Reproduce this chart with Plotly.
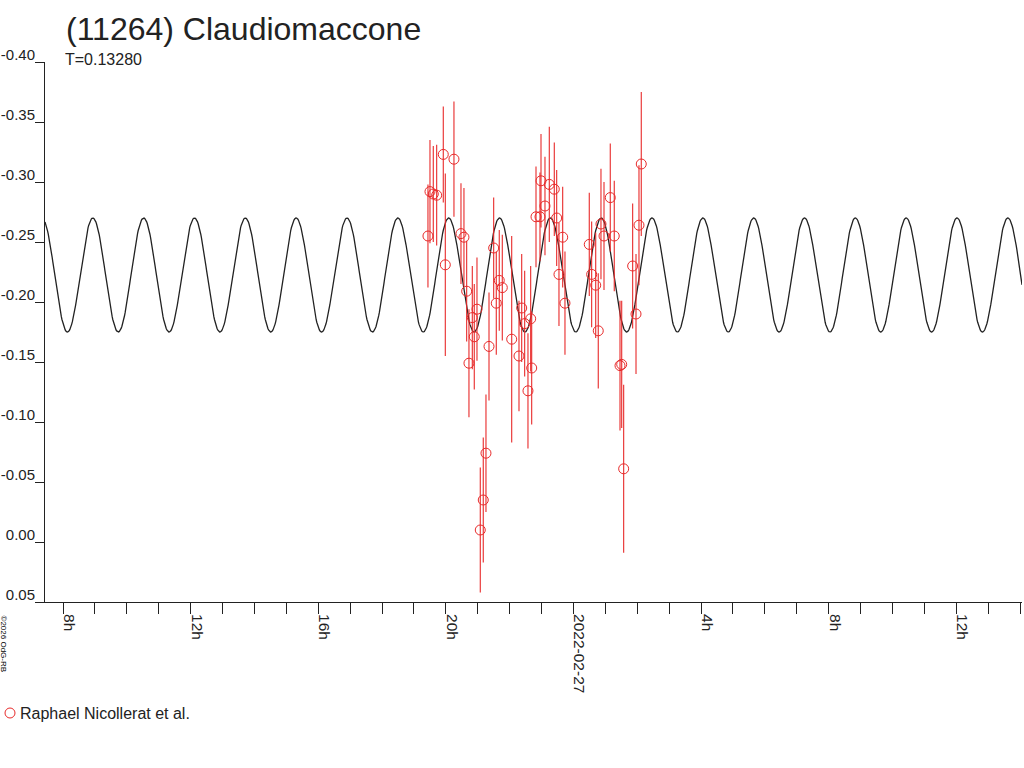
import numpy as np
import pandas as pd
import plotly.graph_objects as go

# ---------------- data ----------------
TITLE = "(11264) Claudiomaccone"
SUBTITLE = "T=0.13280"
OBSERVER = "Raphael Nicollerat et al."
COPYRIGHT = "©2026 OdG-RB"

obs_time = [
    "2022-02-26 19:26:18", "2022-02-26 19:30:06", "2022-02-26 19:36:18", "2022-02-26 19:42:42",
    "2022-02-26 19:55:06", "2022-02-26 19:58:54", "2022-02-26 20:15:12", "2022-02-26 20:28:24",
    "2022-02-26 20:34:00", "2022-02-26 20:39:06", "2022-02-26 20:43:24", "2022-02-26 20:49:42",
    "2022-02-26 20:53:24", "2022-02-26 20:58:30", "2022-02-26 21:04:42", "2022-02-26 21:10:18",
    "2022-02-26 21:15:24", "2022-02-26 21:21:06", "2022-02-26 21:29:54", "2022-02-26 21:34:48",
    "2022-02-26 21:40:24", "2022-02-26 21:46:06", "2022-02-26 22:03:48", "2022-02-26 22:17:30",
    "2022-02-26 22:22:36", "2022-02-26 22:28:12", "2022-02-26 22:34:24", "2022-02-26 22:39:30",
    "2022-02-26 22:41:24", "2022-02-26 22:49:30", "2022-02-26 22:57:00", "2022-02-26 22:58:54",
    "2022-02-26 23:06:24", "2022-02-26 23:14:30", "2022-02-26 23:23:54", "2022-02-26 23:28:24",
    "2022-02-26 23:32:42", "2022-02-26 23:39:42", "2022-02-26 23:44:00", "2022-02-27 00:29:42",
    "2022-02-27 00:34:12", "2022-02-27 00:41:48", "2022-02-27 00:46:36", "2022-02-27 00:51:42",
    "2022-02-27 00:57:24", "2022-02-27 01:09:12", "2022-02-27 01:16:42", "2022-02-27 01:27:30",
    "2022-02-27 01:30:42", "2022-02-27 01:34:24", "2022-02-27 01:51:18", "2022-02-27 01:57:36",
    "2022-02-27 02:03:12", "2022-02-27 02:07:30",
]
obs_mag = [
    -0.255, -0.292, -0.290, -0.289, -0.323, -0.231, -0.319, -0.257,
    -0.254, -0.209, -0.149, -0.187, -0.171, -0.194, -0.010, -0.035,
    -0.074, -0.163, -0.245, -0.199, -0.218, -0.212, -0.169, -0.155,
    -0.195, -0.182, -0.126, -0.186, -0.145, -0.271, -0.271, -0.301,
    -0.280, -0.298, -0.294, -0.270, -0.223, -0.254, -0.199, -0.248,
    -0.223, -0.214, -0.176, -0.265, -0.255, -0.287, -0.255, -0.147,
    -0.148, -0.061, -0.230, -0.190, -0.264, -0.315,
]
obs_err = [
    0.043, 0.043, 0.040, 0.042, 0.040, 0.076, 0.048, 0.042,
    0.041, 0.042, 0.045, 0.043, 0.044, 0.043, 0.052, 0.052,
    0.049, 0.045, 0.042, 0.043, 0.042, 0.044, 0.086, 0.046,
    0.045, 0.044, 0.048, 0.044, 0.047, 0.042, 0.037, 0.039,
    0.041, 0.048, 0.039, 0.040, 0.043, 0.042, 0.043, 0.043,
    0.044, 0.044, 0.048, 0.046, 0.045, 0.045, 0.046, 0.054,
    0.053, 0.070, 0.052, 0.050, 0.050, 0.060,
]

# fitted lightcurve model (double-peaked, period T)
PERIOD_DAYS = 0.13280
MODEL_MEAN = -0.2225
MODEL_AMPLITUDE = 0.0475
MODEL_EPOCH = "2022-02-26 20:05:17"   # time of a brightness maximum

X_START = "2022-02-26 07:26:00"
X_END = "2022-02-27 14:03:36"
Y_TICKS = [-0.40, -0.35, -0.30, -0.25, -0.20, -0.15, -0.10, -0.05, 0.00, 0.05]

# ---------------- style ----------------
RED = "rgb(232,42,42)"
INK = "#222222"
FONT = "Liberation Sans, Arial, sans-serif"
W, H = 1024, 768
ML, MR, MT, MB = 45, 2, 62, 166
PW, PH = W - ML - MR, H - MT - MB


def px(x):
    return (x - ML) / PW


def py(y):
    return (H - MB - y) / PH


# model curve
t0 = pd.Timestamp(X_START)
t1 = pd.Timestamp(X_END)
model_t = pd.date_range(t0, t1, periods=1500)
epoch = pd.Timestamp(MODEL_EPOCH)
phase_days = (model_t - epoch) / pd.Timedelta(days=1)
model_mag = MODEL_MEAN - MODEL_AMPLITUDE * np.cos(4 * np.pi * phase_days / PERIOD_DAYS)

# ticks every hour, labels every 4 h
tick_times = pd.date_range("2022-02-26 08:00", "2022-02-27 14:00", freq="1h")
tick_text = []
for t in tick_times:
    if t.hour % 4:
        tick_text.append("")
    elif t.hour == 0:
        tick_text.append(t.strftime("%Y-%m-%d"))
    else:
        tick_text.append(f"{t.hour}h")

fig = go.Figure()
fig.add_trace(go.Scatter(
    x=model_t, y=model_mag, mode="lines",
    line=dict(color=INK, width=1.3), showlegend=False, hoverinfo="skip",
))
fig.add_trace(go.Scatter(
    x=pd.to_datetime(obs_time), y=obs_mag, mode="markers", name=OBSERVER,
    marker=dict(symbol="circle-open", size=10, color=RED, line=dict(width=1, color=RED)),
    error_y=dict(type="data", array=obs_err, visible=True, color=RED, thickness=1.1, width=0),
    showlegend=False,
))

fig.update_layout(
    width=W, height=H,
    margin=dict(l=ML, r=MR, t=MT, b=MB, pad=0),
    paper_bgcolor="white", plot_bgcolor="white",
    font=dict(family=FONT, color=INK),
    showlegend=False,
)
fig.update_xaxes(
    type="date", range=[X_START, X_END],
    tickmode="array", tickvals=tick_times, ticktext=tick_text,
    tickangle=90, ticks="outside", ticklen=11, tickcolor=INK, tickwidth=1,
    tickfont=dict(size=15.5, color=INK, family=FONT), ticklabelshift=6,
    ticklabelstandoff=-3,
    showline=True, linecolor=INK, linewidth=1,
    showgrid=False, zeroline=False,
)
fig.update_yaxes(
    range=[0.05, -0.40],
    tickmode="array", tickvals=Y_TICKS, ticktext=[f"{v:.2f}" for v in Y_TICKS],
    ticks="outside", ticklen=9, tickcolor=INK, tickwidth=1,
    ticklabelposition="outside top", ticklabelshift=-4, ticklabelstandoff=6,
    tickfont=dict(size=15, color=INK, family=FONT),
    showline=True, linecolor=INK, linewidth=1,
    showgrid=False, zeroline=False,
)

annotations = [
    dict(text=TITLE, x=px(64), y=py(29), xanchor="left", yanchor="middle",
         font=dict(size=32, color=INK, family=FONT)),
    dict(text=SUBTITLE, x=px(63), y=py(59), xanchor="left", yanchor="middle",
         font=dict(size=16, color=INK, family=FONT)),
    dict(text=OBSERVER, x=px(18), y=py(713), xanchor="left", yanchor="middle",
         font=dict(size=16, color=INK, family=FONT)),
    dict(text=COPYRIGHT, x=px(3.5), y=py(644), xanchor="center", yanchor="middle",
         textangle=90, font=dict(size=8, color="black", family=FONT)),
]
for a in annotations:
    a.update(xref="paper", yref="paper", showarrow=False)
fig.update_layout(annotations=annotations)

fig.add_shape(type="circle", xref="paper", yref="paper",
              x0=px(5), x1=px(15), y0=py(708), y1=py(718),
              line=dict(color=RED, width=1))

fig.write_html("out.html", config={"displayModeBar": False},
               post_script="document.body.style.margin='0';")
